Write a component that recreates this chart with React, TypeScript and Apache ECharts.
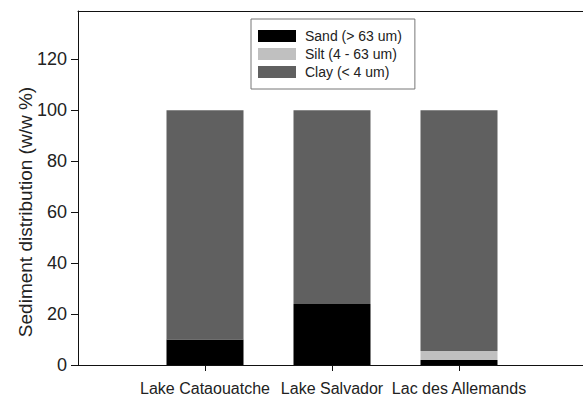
import React, { useEffect, useRef } from "react";
import * as echarts from "echarts";

const categories = ["Lake Cataouatche", "Lake Salvador", "Lac des Allemands"];
const sand = [10, 24, 2];
const silt = [0, 0, 3.5];
const clay = [90, 76, 94.5];
const seriesNames = ["Sand (> 63 um)", "Silt (4 - 63 um)", "Clay (< 4 um)"];
const yTicks = [0, 20, 40, 60, 80, 100, 120];

const FONT = "Liberation Sans, Arial, Helvetica, sans-serif";

export default function App() {
  const ref = useRef<HTMLDivElement>(null);
  useEffect(() => {
    if (!ref.current) return;
    const chart = echarts.init(ref.current, undefined, { renderer: "svg" });
    const pad = (arr: number[]) => [null, ...arr, null];
    const xData = ["", ...categories, ""];
    const mk = (name: string, data: number[], color: string) => ({
      name,
      type: "bar",
      stack: "total",
      barWidth: 77,
      data: pad(data),
      itemStyle: { color },
      emphasis: { disabled: true },
    });
    chart.setOption({
      animation: false,
      backgroundColor: "#ffffff",
      textStyle: { fontFamily: FONT },
      grid: {
        left: 78,
        top: 11,
        width: 508,
        height: 355,
        show: false,
      },
      legend: {
        orient: "vertical",
        left: 251,
        top: 19,
        itemWidth: 38,
        itemHeight: 12,
        itemGap: 4,
        padding: [10, 13, 10, 7],
        borderColor: "#777",
        borderWidth: 1,
        icon: "rect",
        textStyle: { fontSize: 14, color: "#222", fontFamily: FONT, padding: [0, 0, 0, 4] },
        data: seriesNames,
        selectedMode: false,
      },
      xAxis: [
        {
          type: "category",
          data: xData,
          boundaryGap: false,
          axisLine: { lineStyle: { color: "#111", width: 1 } },
          axisTick: {
            show: true,
            length: 6,
            lineStyle: { color: "#111" },
            interval: (_i: number, v: string) => v !== "",
          },
          axisLabel: {
            fontSize: 16,
            color: "#222",
            margin: 15,
            interval: 0,
            fontFamily: FONT,
          },
          splitLine: { show: false },
        },
        {
          type: "category",
          data: xData,
          position: "top",
          boundaryGap: false,
          axisLine: { show: true, lineStyle: { color: "#111", width: 1 } },
          axisTick: { show: false },
          axisLabel: { show: false },
          splitLine: { show: false },
        },
      ],
      yAxis: {
        type: "value",
        min: 0,
        max: 139,
        interval: 20,
        axisLine: { show: true, lineStyle: { color: "#111", width: 1 } },
        axisTick: { show: true, length: 7, lineStyle: { color: "#111" }, customValues: yTicks },
        axisLabel: { fontSize: 18, color: "#222", margin: 11, fontFamily: FONT, customValues: yTicks },
        splitLine: { show: false },
      },
      graphic: [
        {
          type: "text",
          x: 25,
          y: 212,
          rotation: Math.PI / 2,
          style: {
            text: "Sediment distribution (w/w %)",
            fontSize: 19,
            fontFamily: FONT,
            fill: "#222",
            textAlign: "center",
            textVerticalAlign: "middle",
          },
        },
      ],
      series: [
        mk(seriesNames[0], sand, "#000000"),
        mk(seriesNames[1], silt, "#c0c0c0"),
        mk(seriesNames[2], clay, "#606060"),
      ],
    });
    return () => chart.dispose();
  }, []);
  return (
    <div
      style={{ position: "absolute", left: 0, top: 0, width: 583, height: 396, overflow: "hidden", background: "#fff" }}
    >
      <div ref={ref} style={{ width: 700, height: 396 }} />
    </div>
  );
}
